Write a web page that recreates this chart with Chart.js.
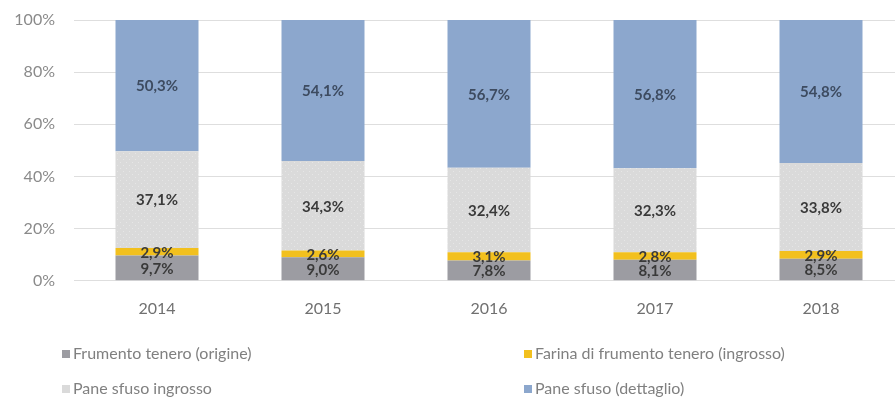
<!DOCTYPE html>
<html>
<head>
<meta charset="utf-8">
<script src="https://cdn.jsdelivr.net/npm/chart.js@4/dist/chart.umd.min.js"></script>
<style>
  html, body { margin:0; padding:0; background:#fff; overflow:hidden; width:895px; height:400px; }
  #wrap { position:relative; width:895px; height:400px; overflow:hidden; }
  #cv { position:absolute; left:0; top:0; }
  .leg { position:absolute; font-family:Lato, sans-serif; font-size:16px; color:#808080; line-height:18px; white-space:nowrap; }
  .leg i { display:inline-block; width:8px; height:8px; margin-right:3px; vertical-align:1px; }
</style>
</head>
<body>
<div id="wrap">
  <canvas id="cv" width="905" height="400"></canvas>
  <div id="legend"></div>
</div>
<script>
/* ═══ DATA ═══════════════════════════════════════════════ */
const YEARS = ['2014','2015','2016','2017','2018'];
const FRUMENTO  = [9.7, 9.0, 7.8, 8.1, 8.5];
const FARINA    = [2.9, 2.6, 3.1, 2.8, 2.9];
const INGROSSO  = [37.1, 34.3, 32.4, 32.3, 33.8];
const DETTAGLIO = [50.3, 54.1, 56.7, 56.8, 54.8];
const Y_TICKS   = [0, 20, 40, 60, 80, 100];

const LABELS = ['Frumento tenero (origine)','Farina di frumento tenero (ingrosso)','Pane sfuso ingrosso','Pane sfuso (dettaglio)'];
const COLORS = ['#9c9ca2','#f2c01e','#dadada','#8ca7cd'];

// dotted texture for the wholesale bread segment
function dotPattern() {
  const c = document.createElement('canvas'); c.width = 6; c.height = 6;
  const g = c.getContext('2d');
  g.fillStyle = '#dadada'; g.fillRect(0,0,6,6);
  g.fillStyle = '#e6e6e6'; g.fillRect(0,0,1,1); g.fillRect(3,3,1,1);
  return g.createPattern(c, 'repeat');
}

const FONT = 'Lato, sans-serif';
const fmt = v => v.toFixed(1).replace('.', ',') + '%';

// value labels centred in each segment
const segLabels = {
  id:'segLabels',
  afterDatasetsDraw(chart) {
    const ctx = chart.ctx;
    ctx.save();
    ctx.font = 'bold 15px ' + FONT;
    ctx.textAlign = 'center'; ctx.textBaseline = 'middle';
    chart.data.datasets.forEach((ds, di) => {
      chart.getDatasetMeta(di).data.forEach((bar, i) => {
        ctx.fillStyle = di === 3 ? '#3d4b60' : '#3a3a3a';
        ctx.fillText(fmt(ds.data[i]), bar.x, (bar.y + bar.base) / 2 + 1);
      });
    });
    ctx.restore();
  }
};

const datasets = [FRUMENTO, FARINA, INGROSSO, DETTAGLIO].map((d, i) => ({
  label: LABELS[i], data: d,
  backgroundColor: i === 2 ? dotPattern() : COLORS[i],
  borderWidth: 0, barPercentage: 0.5, categoryPercentage: 1
}));

new Chart(document.getElementById('cv'), {
  type:'bar',
  data:{ labels:YEARS, datasets },
  plugins:[segLabels],
  options:{
    responsive:false, animation:false,
    layout:{ padding:{ top:20, bottom:64, right:1 } },
    plugins:{ legend:{display:false}, tooltip:{enabled:false} },
    scales:{
      x:{ stacked:true, grid:{display:false, drawTicks:false}, border:{display:false},
          ticks:{ font:{family:FONT, size:16}, color:'#707070', padding:18 } },
      y:{ stacked:true, min:0, max:100,
          afterFit: s => { s.width = 74; s.paddingTop = 0; s.paddingBottom = 0; },
          afterBuildTicks: s => { s.ticks = Y_TICKS.map(v => ({value:v})); },
          grid:{ color:'#dedede', lineWidth:1, drawTicks:false }, border:{display:false},
          ticks:{ font:{family:FONT, size:16}, color:'#8a8a8a', padding:19, callback:v => v + '%' } }
    }
  }
});

/* ═══ LEGEND ═══════════════════════════════════════════ */
const LEG_POS = [[62,344],[524,344],[62,379],[524,379]];
const legend = document.getElementById('legend');
LABELS.forEach((t, i) => {
  const d = document.createElement('div');
  d.className = 'leg';
  d.style.left = LEG_POS[i][0] + 'px';
  d.style.top = LEG_POS[i][1] + 'px';
  d.innerHTML = '<i style="background:' + COLORS[i] + '"></i>' + t;
  legend.appendChild(d);
});
</script>
</body>
</html>
